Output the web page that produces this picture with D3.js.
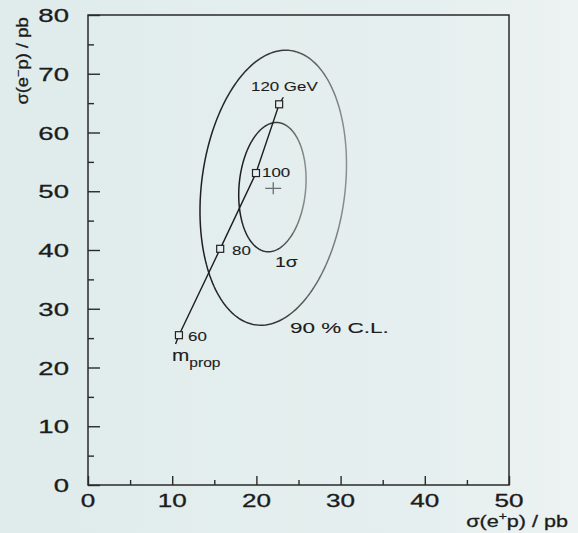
<!DOCTYPE html>
<html>
<head>
<meta charset="utf-8">
<script src="https://cdn.jsdelivr.net/npm/d3@7"></script>
<style>
  html, body { margin: 0; padding: 0; background: #e6eeee; }
  svg { display: block; }
  text { font-family: "Liberation Sans", Arial, Helvetica, sans-serif; fill: #1c1c1c; stroke: #1c1c1c; stroke-width: 0.3; }
  text.note { stroke-width: 0.1; }
</style>
</head>
<body>
<svg id="chart" width="578" height="533"></svg>
<script>
// Axis ranges and tick labels
const xDomain = [0, 50];
const yDomain = [0, 80];
const xMajorTicks = [0, 10, 20, 30, 40, 50];
const xMinorTicks = [5, 15, 25, 35, 45];
const yMajorTicks = [0, 10, 20, 30, 40, 50, 60, 70, 80];
const yMinorTicks = [5, 15, 25, 35, 45, 55, 65, 75];

// Measured cross sections (best fit point) in pb
const bestFit = { x: 22.0, y: 50.5 };

// Confidence contours: centre, half widths and correlation
const contourNames = ["1σ", "90 % C.L."];
const contourCx = [21.9, 22.0];
const contourCy = [50.7, 50.6];
const contourSx = [4.0, 8.7];
const contourSy = [11.0, 23.4];
const contourRho = [0.12, 0.17];

// Predicted cross sections versus propagator mass
const massLabels = ["60", "80", "100", "120 GeV"];
const massX = [10.8, 15.7, 19.95, 22.7];
const massY = [25.5, 40.2, 53.1, 64.8];
// Prediction curve, including its two loose ends
const curveX = [10.4, 10.8, 15.7, 19.95, 22.7, 23.2];
const curveY = [24.0, 25.5, 40.2, 53.1, 64.8, 66.0];

const svg = d3.select("#chart");
const W = 578, H = 533;
const margin = { left: 88, right: 69, top: 15, bottom: 48 };

// Paper tone, slightly cooler on the left
const defs = svg.append("defs");
const bg = defs.append("linearGradient").attr("id", "paper")
  .attr("x1", 0).attr("x2", 1).attr("y1", 0).attr("y2", 0);
bg.append("stop").attr("offset", 0).attr("stop-color", "#dfeceb");
bg.append("stop").attr("offset", 0.75).attr("stop-color", "#e6efef");
bg.append("stop").attr("offset", 1).attr("stop-color", "#edf2f2");
svg.append("rect").attr("width", W).attr("height", H).attr("fill", "url(#paper)");

// Ink fading toward the right of each contour
const ink = defs.append("linearGradient").attr("id", "ink")
  .attr("x1", 0).attr("x2", 1).attr("y1", 0).attr("y2", 0);
ink.append("stop").attr("offset", 0).attr("stop-color", "#1e1e1e");
ink.append("stop").attr("offset", 0.55).attr("stop-color", "#3a3a3a");
ink.append("stop").attr("offset", 1).attr("stop-color", "#8a8f90");

const x = d3.scaleLinear().domain(xDomain).range([margin.left, W - margin.right]);
const y = d3.scaleLinear().domain(yDomain).range([H - margin.bottom, margin.top]);

// Horizontally widened text helper
function label(str, px, py, size, sx, anchor, cls) {
  const t = svg.append("text")
    .attr("class", cls || null)
    .attr("transform", `translate(${px},${py}) scale(${sx},1)`)
    .attr("font-size", size)
    .attr("text-anchor", anchor || "start");
  t.text(str);
  return t;
}

// Frame
svg.append("rect")
  .attr("x", x(0)).attr("y", y(80))
  .attr("width", x(50) - x(0)).attr("height", y(0) - y(80))
  .attr("fill", "none").attr("stroke", "#2a2a2a").attr("stroke-width", 1.5);

// Inward ticks on the left and bottom axes
const axisStyle = g => {
  g.select(".domain").remove();
  g.selectAll("line").attr("stroke", "#2a2a2a").attr("stroke-width", 1.4);
  g.selectAll("text").remove();
};
svg.append("g").attr("transform", `translate(${x(0)},0)`)
  .call(d3.axisLeft(y).tickValues(yMajorTicks).tickSize(-12)).call(axisStyle);
svg.append("g").attr("transform", `translate(${x(0)},0)`)
  .call(d3.axisLeft(y).tickValues(yMinorTicks).tickSize(-6)).call(axisStyle);
svg.append("g").attr("transform", `translate(0,${y(0)})`)
  .call(d3.axisBottom(x).tickValues(xMajorTicks).tickSize(-9)).call(axisStyle);
svg.append("g").attr("transform", `translate(0,${y(0)})`)
  .call(d3.axisBottom(x).tickValues(xMinorTicks).tickSize(-5)).call(axisStyle);

// Tick labels
yMajorTicks.forEach(v => label(String(v), 69, y(v) + 7, 19, 1.45, "end"));
xMajorTicks.forEach(v => label(String(v), x(v), y(0) + 22, 18, 1.45, "middle"));

// Axis titles
const yt = svg.append("text")
  .attr("transform", `translate(28,${61}) rotate(-90) scale(1.15,1)`)
  .attr("font-size", 16).attr("text-anchor", "middle")
  .attr("stroke-width", 0.2);
yt.append("tspan").text("σ(e");
yt.append("tspan").attr("font-size", 11).attr("dy", -6).text("−");
yt.append("tspan").attr("dy", 6).text("p) / pb");

const xt = svg.append("text")
  .attr("transform", `translate(568,527) scale(1.27,1)`)
  .attr("font-size", 17).attr("text-anchor", "end")
  .attr("stroke-width", 0.2);
xt.append("tspan").text("σ(e");
xt.append("tspan").attr("font-size", 11).attr("dy", -7).text("+");
xt.append("tspan").attr("dy", 7).text("p) / pb");

// Contours traced in data space through the scales
const line = d3.line().x(d => x(d[0])).y(d => y(d[1])).curve(d3.curveLinearClosed);
contourNames.forEach((name, i) => {
  const pts = d3.range(0, 360, 2).map(deg => {
    const t = deg * Math.PI / 180;
    const r = contourRho[i];
    return [
      contourCx[i] + contourSx[i] * Math.cos(t),
      contourCy[i] + contourSy[i] * (r * Math.cos(t) + Math.sqrt(1 - r * r) * Math.sin(t))
    ];
  });
  svg.append("path").attr("d", line(pts))
    .attr("fill", "none").attr("stroke", "url(#ink)").attr("stroke-width", 1.5);
});

// Best fit marker
const bx = x(bestFit.x), by = y(bestFit.y);
svg.append("path")
  .attr("d", `M${bx - 8},${by}H${bx + 8}M${bx},${by - 6}V${by + 6}`)
  .attr("stroke", "#6a6e70").attr("stroke-width", 1.3);

// Prediction curve
const curve = d3.line().x(d => x(d[0])).y(d => y(d[1]));
svg.append("path").attr("d", curve(curveX.map((v, i) => [v, curveY[i]])))
  .attr("fill", "none").attr("stroke", "#1e1e1e").attr("stroke-width", 1.4);

// Mass points
massX.forEach((v, i) => {
  svg.append("rect")
    .attr("x", x(v) - 3.5).attr("y", y(massY[i]) - 3.5)
    .attr("width", 7).attr("height", 7)
    .attr("fill", "#e6eeee").attr("stroke", "#222").attr("stroke-width", 1.2);
});

// Mass labels
label(massLabels[0], 188, 341, 13, 1.3, "start", "note");
label(massLabels[1], 232, 255, 13, 1.3, "start", "note");
label(massLabels[2], 262, 177, 13, 1.3, "start", "note");
label(massLabels[3], 251, 91, 13, 1.3, "start", "note");

// Contour labels
const s1 = svg.append("text").attr("class", "note")
  .attr("transform", `translate(275,267) scale(1.3,1)`).attr("font-size", 15);
s1.text(contourNames[0]);
label(contourNames[1], 290, 333, 15, 1.5, "start", "note");

// Propagator mass label
const mp = svg.append("text").attr("class", "note")
  .attr("transform", `translate(172,361) scale(1.3,1)`).attr("font-size", 16);
mp.append("tspan").text("m");
mp.append("tspan").attr("font-size", 12).attr("dy", 6).text("prop");
</script>
</body>
</html>
